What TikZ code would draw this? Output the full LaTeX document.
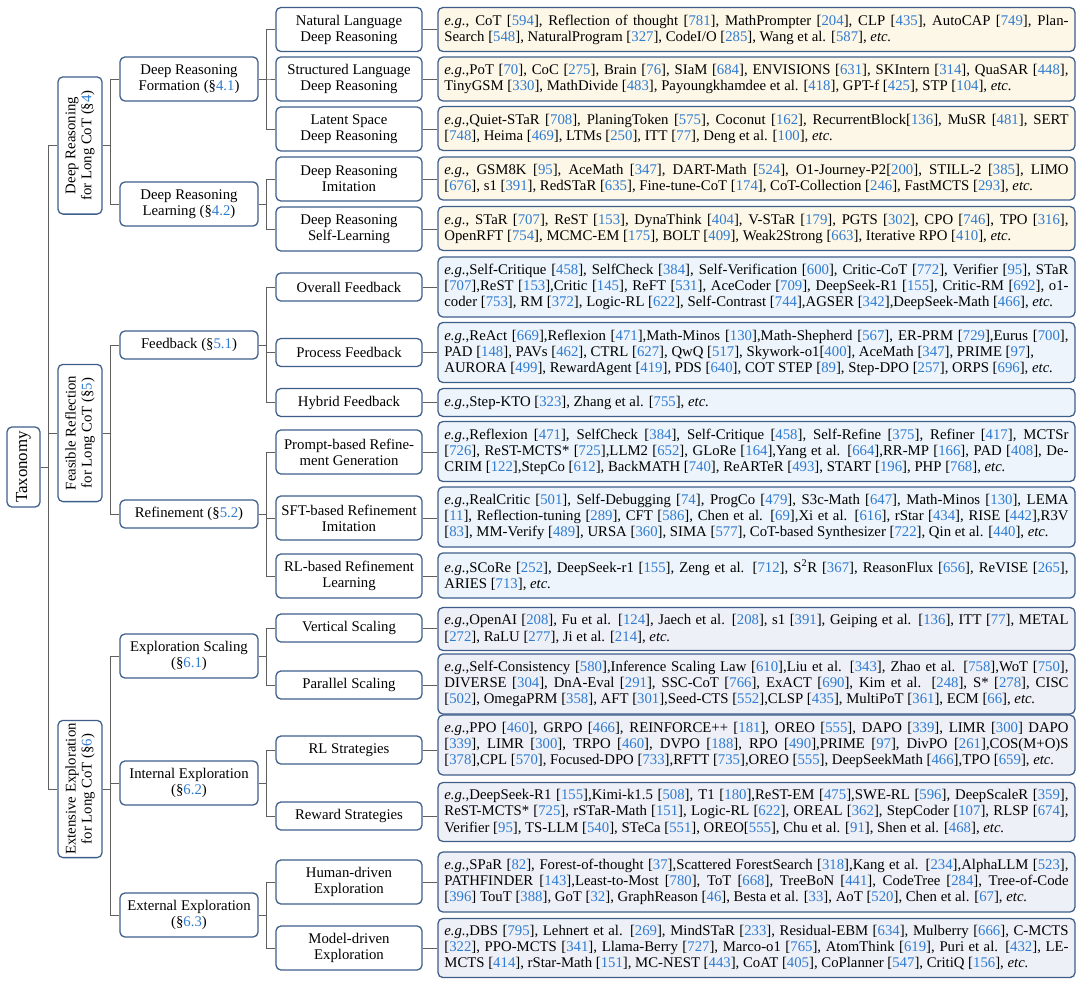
\documentclass[tikz,border=0pt]{standalone}
\usepackage{fontspec}
\setmainfont{Liberation Serif}
\usetikzlibrary{positioning}

\definecolor{edgeblue}{RGB}{62,94,138}
\definecolor{refblue}{RGB}{47,123,208}
\definecolor{linegray}{RGB}{95,95,95}
\definecolor{filldr}{RGB}{253,247,232}
\definecolor{fillfr}{RGB}{237,244,251}
\definecolor{fillee}{RGB}{238,240,247}

\newcommand{\rf}[1]{[\textcolor{refblue}{#1}]}
\newcommand{\sect}[1]{(\S\textcolor{refblue}{#1})}

\begin{document}
\begin{tikzpicture}[
  x=0.025cm, y=-0.025cm,
  box/.style={draw=edgeblue, line width=0.9pt, rounded corners=3.5pt, fill=white,
              align=center, inner sep=0pt, font=\fontsize{10.5}{11.4}\selectfont},
  root/.style={box, rotate=90, minimum width=2cm, minimum height=0.825cm,
               font=\fontsize{12}{14}\selectfont},
  topic/.style={box, rotate=90, minimum width=3.43cm, minimum height=1.1cm},
  sub/.style={box, minimum width=3.45cm, minimum height=1.1cm},
  subone/.style={sub, minimum height=0.7cm},
  kind/.style={box, minimum width=3.65cm, minimum height=1.1cm},
  kindone/.style={kind, minimum height=0.7cm},
  leaf/.style={draw=edgeblue, line width=0.9pt, rounded corners=3.5pt,
               text width=15.6cm, inner xsep=0.16cm, inner ysep=0.18cm,
               align=justify, font=\fontsize{10.5}{11.4}\selectfont},
  leafdr/.style={leaf, fill=filldr},
  leaffr/.style={leaf, fill=fillfr},
  leafee/.style={leaf, fill=fillee},
  link/.style={draw=linegray, line width=0.7pt},
]
  \useasboundingbox (0,0) rectangle (1080,986);

  % root and the three parts
  \node[root]  (tax) at (23.5,467) {Taxonomy};
  \node[topic] (t4) at (80,145.5) {Deep Reasoning\\for Long CoT \sect{4}};
  \node[topic] (t5) at (80,433)   {Feasible Reflection\\for Long CoT \sect{5}};
  \node[topic] (t6) at (80,789)   {Extensive Exploration\\for Long CoT \sect{6}};

  % sections
  \node[sub]    (s41) at (189,79)  {Deep Reasoning\\Formation \sect{4.1}};
  \node[sub]    (s42) at (189,204) {Deep Reasoning\\Learning \sect{4.2}};
  \node[subone] (s51) at (189,345) {Feedback \sect{5.1}};
  \node[subone] (s52) at (189,514) {Refinement \sect{5.2}};
  \node[sub]    (s61) at (189,656) {Exploration Scaling\\\sect{6.1}};
  \node[sub]    (s62) at (189,783) {Internal Exploration\\\sect{6.2}};
  \node[sub]    (s63) at (189,915) {External Exploration\\\sect{6.3}};

  % kinds
  \node[kind]    (k1)  at (349,29.5)  {Natural Language\\Deep Reasoning};
  \node[kind]    (k2)  at (349,79)    {Structured Language\\Deep Reasoning};
  \node[kind]    (k3)  at (349,129)   {Latent Space\\Deep Reasoning};
  \node[kind]    (k4)  at (349,179)   {Deep Reasoning\\Imitation};
  \node[kind]    (k5)  at (349,229)   {Deep Reasoning\\Self-Learning};
  \node[kindone] (k6)  at (349,287)   {Overall Feedback};
  \node[kindone] (k7)  at (349,352.5) {Process Feedback};
  \node[kindone] (k8)  at (349,402.5) {Hybrid Feedback};
  \node[kind]    (k9)  at (349,452)   {Prompt-based Refine-\\ment Generation};
  \node[kind]    (k10) at (349,518)   {SFT-based Refinement\\Imitation};
  \node[kind]    (k11) at (349,576)   {RL-based Refinement\\Learning};
  \node[kindone] (k12) at (349,628)   {Vertical Scaling};
  \node[kindone] (k13) at (349,685)   {Parallel Scaling};
  \node[kindone] (k14) at (349,750)   {RL Strategies};
  \node[kindone] (k15) at (349,816)   {Reward Strategies};
  \node[kind]    (k16) at (349,882)   {Human-driven\\Exploration};
  \node[kind]    (k17) at (349,948)   {Model-driven\\Exploration};

  % works
  \node[leafdr] (f1) at (756.5,29.5) {\emph{e.g.}, CoT \rf{594}, Reflection of thought \rf{781}, MathPrompter \rf{204}, CLP \rf{435}, AutoCAP \rf{749}, Plan-\linebreak Search \rf{548}, NaturalProgram \rf{327}, CodeI/O \rf{285}, Wang et al. \rf{587}, \emph{etc.}};
  \node[leafdr] (f2) at (756.5,79) {\emph{e.g.},PoT \rf{70}, CoC \rf{275}, Brain \rf{76}, SIaM \rf{684}, ENVISIONS \rf{631}, SKIntern \rf{314}, QuaSAR \rf{448},\linebreak TinyGSM \rf{330}, MathDivide \rf{483}, Payoungkhamdee et al. \rf{418}, GPT-f \rf{425}, STP \rf{104}, \emph{etc.}};
  \node[leafdr] (f3) at (756.5,128.5) {\emph{e.g.},Quiet-STaR \rf{708}, PlaningToken \rf{575}, Coconut \rf{162}, RecurrentBlock\rf{136}, MuSR \rf{481}, SERT\linebreak \rf{748}, Heima \rf{469}, LTMs \rf{250}, ITT \rf{77}, Deng et al. \rf{100}, \emph{etc.}};
  \node[leafdr] (f4) at (756.5,178.5) {\emph{e.g.}, GSM8K \rf{95}, AceMath \rf{347}, DART-Math \rf{524}, O1-Journey-P2\rf{200}, STILL-2 \rf{385}, LIMO\linebreak \rf{676}, s1 \rf{391}, RedSTaR \rf{635}, Fine-tune-CoT \rf{174}, CoT-Collection \rf{246}, FastMCTS \rf{293}, \emph{etc.}};
  \node[leafdr] (f5) at (756.5,228.5) {\emph{e.g.}, STaR \rf{707}, ReST \rf{153}, DynaThink \rf{404}, V-STaR \rf{179}, PGTS \rf{302}, CPO \rf{746}, TPO \rf{316},\linebreak OpenRFT \rf{754}, MCMC-EM \rf{175}, BOLT \rf{409}, Weak2Strong \rf{663}, Iterative RPO \rf{410}, \emph{etc.}};
  \node[leaffr] (f6) at (756.5,287) {\emph{e.g.},Self-Critique \rf{458}, SelfCheck \rf{384}, Self-Verification \rf{600}, Critic-CoT \rf{772}, Verifier \rf{95}, STaR\linebreak \rf{707},ReST \rf{153},Critic \rf{145}, ReFT \rf{531}, AceCoder \rf{709}, DeepSeek-R1 \rf{155}, Critic-RM \rf{692}, o1-\linebreak coder \rf{753}, RM \rf{372}, Logic-RL \rf{622}, Self-Contrast \rf{744},AGSER \rf{342},DeepSeek-Math \rf{466}, \emph{etc.}};
  \node[leaffr] (f7) at (756.5,352.5) {\emph{e.g.},ReAct \rf{669},Reflexion \rf{471},Math-Minos \rf{130},Math-Shepherd \rf{567}, ER-PRM \rf{729},Eurus \rf{700},\linebreak PAD \rf{148}, PAVs \rf{462}, CTRL \rf{627}, QwQ \rf{517}, Skywork-o1\rf{400}, AceMath \rf{347}, PRIME \rf{97},\newline AURORA \rf{499}, RewardAgent \rf{419}, PDS \rf{640}, COT STEP \rf{89}, Step-DPO \rf{257}, ORPS \rf{696}, \emph{etc.}};
  \node[leaffr] (f8) at (756.5,402.5) {\emph{e.g.},Step-KTO \rf{323}, Zhang et al. \rf{755}, \emph{etc.}};
  \node[leaffr] (f9) at (756.5,451.5) {\emph{e.g.},Reflexion \rf{471}, SelfCheck \rf{384}, Self-Critique \rf{458}, Self-Refine \rf{375}, Refiner \rf{417}, MCTSr\linebreak \rf{726}, ReST-MCTS* \rf{725},LLM2 \rf{652}, GLoRe \rf{164},Yang et al. \rf{664},RR-MP \rf{166}, PAD \rf{408}, De-\linebreak CRIM \rf{122},StepCo \rf{612}, BackMATH \rf{740}, ReARTeR \rf{493}, START \rf{196}, PHP \rf{768}, \emph{etc.}};
  \node[leaffr] (f10) at (756.5,517) {\emph{e.g.},RealCritic \rf{501}, Self-Debugging \rf{74}, ProgCo \rf{479}, S3c-Math \rf{647}, Math-Minos \rf{130}, LEMA\linebreak \rf{11}, Reflection-tuning \rf{289}, CFT \rf{586}, Chen et al. \rf{69},Xi et al. \rf{616}, rStar \rf{434}, RISE \rf{442},R3V\linebreak \rf{83}, MM-Verify \rf{489}, URSA \rf{360}, SIMA \rf{577}, CoT-based Synthesizer \rf{722}, Qin et al. \rf{440}, \emph{etc.}};
  \node[leaffr] (f11) at (756.5,575.5) {\emph{e.g.},SCoRe \rf{252}, DeepSeek-r1 \rf{155}, Zeng et al. \rf{712}, S\textsuperscript{2}R \rf{367}, ReasonFlux \rf{656}, ReVISE \rf{265},\linebreak ARIES \rf{713}, \emph{etc.}};
  \node[leafee] (f12) at (756.5,629) {\emph{e.g.},OpenAI \rf{208}, Fu et al. \rf{124}, Jaech et al. \rf{208}, s1 \rf{391}, Geiping et al. \rf{136}, ITT \rf{77}, METAL\linebreak \rf{272}, RaLU \rf{277}, Ji et al. \rf{214}, \emph{etc.}};
  \node[leafee] (f13) at (756.5,684) {\emph{e.g.},Self-Consistency \rf{580},Inference Scaling Law \rf{610},Liu et al. \rf{343}, Zhao et al. \rf{758},WoT \rf{750},\linebreak DIVERSE \rf{304}, DnA-Eval \rf{291}, SSC-CoT \rf{766}, ExACT \rf{690}, Kim et al. \rf{248}, S* \rf{278}, CISC\linebreak \rf{502}, OmegaPRM \rf{358}, AFT \rf{301},Seed-CTS \rf{552},CLSP \rf{435}, MultiPoT \rf{361}, ECM \rf{66}, \emph{etc.}};
  \node[leafee] (f14) at (756.5,745) {\emph{e.g.},PPO \rf{460}, GRPO \rf{466}, REINFORCE++ \rf{181}, OREO \rf{555}, DAPO \rf{339}, LIMR \rf{300} DAPO\linebreak \rf{339}, LIMR \rf{300}, TRPO \rf{460}, DVPO \rf{188}, RPO \rf{490},PRIME \rf{97}, DivPO \rf{261},COS(M+O)S\linebreak \rf{378},CPL \rf{570}, Focused-DPO \rf{733},RFTT \rf{735},OREO \rf{555}, DeepSeekMath \rf{466},TPO \rf{659}, \emph{etc.}};
  \node[leafee] (f15) at (756.5,812) {\emph{e.g.},DeepSeek-R1 \rf{155},Kimi-k1.5 \rf{508}, T1 \rf{180},ReST-EM \rf{475},SWE-RL \rf{596}, DeepScaleR \rf{359},\linebreak ReST-MCTS* \rf{725}, rSTaR-Math \rf{151}, Logic-RL \rf{622}, OREAL \rf{362}, StepCoder \rf{107}, RLSP \rf{674},\linebreak Verifier \rf{95}, TS-LLM \rf{540}, STeCa \rf{551}, OREO\rf{555}, Chu et al. \rf{91}, Shen et al. \rf{468}, \emph{etc.}};
  \node[leafee] (f16) at (756.5,882) {\emph{e.g.},SPaR \rf{82}, Forest-of-thought \rf{37},Scattered ForestSearch \rf{318},Kang et al. \rf{234},AlphaLLM \rf{523},\linebreak PATHFINDER \rf{143},Least-to-Most \rf{780}, ToT \rf{668}, TreeBoN \rf{441}, CodeTree \rf{284}, Tree-of-Code\linebreak \rf{396} TouT \rf{388}, GoT \rf{32}, GraphReason \rf{46}, Besta et al. \rf{33}, AoT \rf{520}, Chen et al. \rf{67}, \emph{etc.}};
  \node[leafee] (f17) at (756.5,948) {\emph{e.g.},DBS \rf{795}, Lehnert et al. \rf{269}, MindSTaR \rf{233}, Residual-EBM \rf{634}, Mulberry \rf{666}, C-MCTS\linebreak \rf{322}, PPO-MCTS \rf{341}, Llama-Berry \rf{727}, Marco-o1 \rf{765}, AtomThink \rf{619}, Puri et al. \rf{432}, LE-\linebreak MCTS \rf{414}, rStar-Math \rf{151}, MC-NEST \rf{443}, CoAT \rf{405}, CoPlanner \rf{547}, CritiQ \rf{156}, \emph{etc.}};

  % tree lines
  \draw[link] (tax.south) -- ++(8,0) |- (t4.north);
  \draw[link] (tax.south) -- ++(8,0) |- (t5.north);
  \draw[link] (tax.south) -- ++(8,0) |- (t6.north);
  \draw[link] (t4.south) -- ++(8,0) |- (s41.west);
  \draw[link] (t4.south) -- ++(8,0) |- (s42.west);
  \draw[link] (t5.south) -- ++(8,0) |- (s51.west);
  \draw[link] (t5.south) -- ++(8,0) |- (s52.west);
  \draw[link] (t6.south) -- ++(8,0) |- (s61.west);
  \draw[link] (t6.south) -- ++(8,0) |- (s62.west);
  \draw[link] (t6.south) -- ++(8,0) |- (s63.west);
  \draw[link] (s41.east) -- ++(8,0) |- (k1.west);
  \draw[link] (s41.east) -- ++(8,0) |- (k2.west);
  \draw[link] (s41.east) -- ++(8,0) |- (k3.west);
  \draw[link] (s42.east) -- ++(8,0) |- (k4.west);
  \draw[link] (s42.east) -- ++(8,0) |- (k5.west);
  \draw[link] (s51.east) -- ++(8,0) |- (k6.west);
  \draw[link] (s51.east) -- ++(8,0) |- (k7.west);
  \draw[link] (s51.east) -- ++(8,0) |- (k8.west);
  \draw[link] (s52.east) -- ++(8,0) |- (k9.west);
  \draw[link] (s52.east) -- ++(8,0) |- (k10.west);
  \draw[link] (s52.east) -- ++(8,0) |- (k11.west);
  \draw[link] (s61.east) -- ++(8,0) |- (k12.west);
  \draw[link] (s61.east) -- ++(8,0) |- (k13.west);
  \draw[link] (s62.east) -- ++(8,0) |- (k14.west);
  \draw[link] (s62.east) -- ++(8,0) |- (k15.west);
  \draw[link] (s63.east) -- ++(8,0) |- (k16.west);
  \draw[link] (s63.east) -- ++(8,0) |- (k17.west);
  \draw[link] (k1.east) -- (k1.east -| f1.west)
              (k2.east) -- (k2.east -| f2.west)
              (k3.east) -- (k3.east -| f3.west)
              (k4.east) -- (k4.east -| f4.west)
              (k5.east) -- (k5.east -| f5.west)
              (k6.east) -- (k6.east -| f6.west)
              (k7.east) -- (k7.east -| f7.west)
              (k8.east) -- (k8.east -| f8.west)
              (k9.east) -- (k9.east -| f9.west)
              (k10.east) -- (k10.east -| f10.west)
              (k11.east) -- (k11.east -| f11.west)
              (k12.east) -- (k12.east -| f12.west)
              (k13.east) -- (k13.east -| f13.west)
              (k14.east) -- (k14.east -| f14.west)
              (k15.east) -- (k15.east -| f15.west)
              (k16.east) -- (k16.east -| f16.west)
              (k17.east) -- (k17.east -| f17.west);
\end{tikzpicture}
\end{document}
